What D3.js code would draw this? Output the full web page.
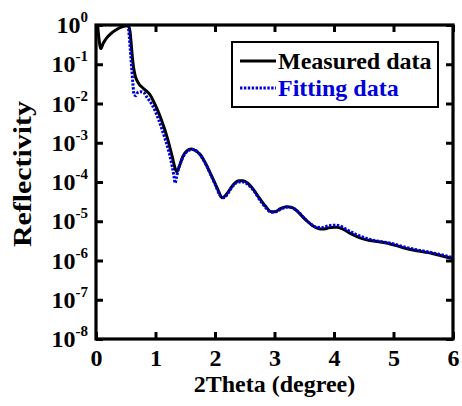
<!DOCTYPE html>
<html><head><meta charset="utf-8">
<script src="https://cdn.jsdelivr.net/npm/d3@7"></script>
<style>
html,body{margin:0;padding:0;background:#fff;}
text{font-family:"Liberation Serif","Times New Roman",serif;font-weight:bold;}
</style></head>
<body><svg id="c" width="462" height="406"></svg>
<script>
// 2Theta (degree) and log10(reflectivity)
const measuredX = [0.03,0.05,0.08,0.12,0.18,0.25,0.32,0.4,0.47,0.52,0.55,0.57,0.59,0.61,0.63,0.66,0.69,0.73,0.77,0.83,0.9,1.0,1.1,1.2,1.28,1.33,1.36,1.4,1.46,1.53,1.6,1.66,1.75,1.85,1.95,2.05,2.12,2.2,2.3,2.4,2.47,2.55,2.65,2.75,2.85,2.95,3.0,3.1,3.2,3.28,3.35,3.45,3.55,3.65,3.75,3.82,3.9,4.0,4.05,4.15,4.3,4.45,4.6,4.75,4.9,5.05,5.2,5.35,5.5,5.65,5.8,6.0];
const measuredLog = [-0.05,-0.35,-0.6,-0.47,-0.33,-0.22,-0.14,-0.07,-0.03,-0.02,-0.04,-0.15,-0.45,-0.8,-1.07,-1.3,-1.42,-1.52,-1.58,-1.66,-1.76,-2.05,-2.42,-2.88,-3.35,-3.65,-3.74,-3.6,-3.35,-3.2,-3.16,-3.19,-3.3,-3.55,-3.87,-4.2,-4.4,-4.3,-4.08,-3.97,-3.97,-4.03,-4.2,-4.42,-4.62,-4.76,-4.76,-4.68,-4.63,-4.64,-4.7,-4.85,-5.0,-5.12,-5.19,-5.2,-5.17,-5.15,-5.15,-5.2,-5.33,-5.43,-5.49,-5.52,-5.56,-5.62,-5.69,-5.74,-5.78,-5.82,-5.88,-5.95];
const fittingX = [0.54,0.56,0.58,0.6,0.62,0.64,0.67,0.7,0.75,0.8,0.86,0.95,1.05,1.15,1.22,1.28,1.31,1.33,1.35,1.38,1.42,1.48,1.55,1.62,1.7,1.8,1.9,2.0,2.1,2.15,2.22,2.3,2.4,2.47,2.55,2.65,2.75,2.85,2.95,3.02,3.12,3.22,3.3,3.4,3.5,3.6,3.7,3.8,3.9,4.0,4.1,4.2,4.35,4.5,4.65,4.8,4.95,5.1,5.25,5.4,5.55,5.7,5.85,6.0];
const fittingLog = [0.0,-0.3,-0.7,-1.1,-1.5,-1.78,-1.8,-1.72,-1.7,-1.72,-1.85,-2.05,-2.4,-2.85,-3.2,-3.6,-3.85,-4.03,-3.9,-3.7,-3.52,-3.32,-3.2,-3.17,-3.22,-3.42,-3.72,-4.05,-4.37,-4.4,-4.28,-4.1,-4.0,-4.0,-4.06,-4.22,-4.45,-4.65,-4.77,-4.76,-4.68,-4.64,-4.66,-4.76,-4.92,-5.06,-5.15,-5.16,-5.12,-5.1,-5.12,-5.2,-5.32,-5.41,-5.48,-5.52,-5.56,-5.62,-5.68,-5.73,-5.77,-5.82,-5.87,-5.93];
const xTicks = [0,1,2,3,4,5,6];
const yExponents = [0,-1,-2,-3,-4,-5,-6,-7,-8];
const seriesNames = ["Measured data","Fitting data"];

const svg = d3.select("#c");
const L=96, R=453, T=25, B=339;
const x = d3.scaleLinear().domain([0,6]).range([L,R]);
const y = d3.scaleLog().domain([1e-8,1]).range([B,T]);

const measured = measuredX.map((d,i)=>[d, Math.pow(10, measuredLog[i])]);
const fitting = fittingX.map((d,i)=>[d, Math.pow(10, fittingLog[i])]);

const line = d3.line().x(d=>x(d[0])).y(d=>y(d[1])).curve(d3.curveMonotoneX);

svg.append("defs").append("clipPath").attr("id","clip").append("rect")
  .attr("x",L).attr("y",T-2).attr("width",R-L).attr("height",B-T+2);

const g = svg.append("g").attr("clip-path","url(#clip)");
g.append("path").datum(measured).attr("d",line).attr("fill","none")
  .attr("stroke","#000").attr("stroke-width",3);
g.append("path").datum(fitting).attr("d",line).attr("fill","none")
  .attr("stroke","#0000dd").attr("stroke-width",3).attr("stroke-dasharray","2.4,1.5");

// ticks (inward) on all four sides
const tickLen = 7;
const axB = d3.axisBottom(x).tickValues(xTicks).tickSize(-tickLen).tickPadding(10).tickFormat(d3.format("d"));
const axT = d3.axisTop(x).tickValues(xTicks).tickSize(-tickLen).tickFormat("");
const yTickVals = yExponents.map(e=>Math.pow(10,e));
const axL = d3.axisLeft(y).tickValues(yTickVals).tickSize(-tickLen).tickFormat("");
const axR = d3.axisRight(y).tickValues(yTickVals).tickSize(-tickLen).tickFormat("");

function style(sel){
  sel.select(".domain").remove();
  sel.selectAll(".tick line").attr("stroke","#000").attr("stroke-width",3);
}
svg.append("g").attr("transform",`translate(0,${B})`).call(axB).call(style)
  .selectAll(".tick text").attr("font-size",24).attr("font-family","Liberation Serif").attr("font-weight","bold").attr("fill","#000");
svg.append("g").attr("transform",`translate(0,${T})`).call(axT).call(style);
svg.append("g").attr("transform",`translate(${L},0)`).call(axL).call(style);
svg.append("g").attr("transform",`translate(${R},0)`).call(axR).call(style);

// y tick labels as 10^n
const yl = svg.append("g");
yExponents.forEach(e=>{
  const t = yl.append("text").attr("x",L-8).attr("y",y(Math.pow(10,e))+8)
    .attr("text-anchor","end").attr("font-size",24).attr("fill","#000");
  t.append("tspan").text("10");
  t.append("tspan").attr("dy",-11).attr("font-size",15).text(String(e));
});

// frame
svg.append("rect").attr("x",L).attr("y",T).attr("width",R-L).attr("height",B-T)
  .attr("fill","none").attr("stroke","#000").attr("stroke-width",3.2);

// axis titles
svg.append("text").attr("x",(L+R)/2).attr("y",392).attr("text-anchor","middle")
  .attr("font-size",24).attr("fill","#000").text("2Theta (degree)");
svg.append("text").attr("transform",`translate(31,174) rotate(-90)`).attr("text-anchor","middle")
  .attr("font-size",25).attr("textLength",146).attr("lengthAdjust","spacingAndGlyphs")
  .attr("fill","#000").text("Reflectivity");

// legend
const lg = svg.append("g");
lg.append("rect").attr("x",232).attr("y",42).attr("width",206).attr("height",65)
  .attr("fill","#fff").attr("stroke","#000").attr("stroke-width",2);
lg.append("line").attr("x1",240).attr("x2",276).attr("y1",61).attr("y2",61)
  .attr("stroke","#000").attr("stroke-width",3);
lg.append("line").attr("x1",240).attr("x2",276).attr("y1",88).attr("y2",88)
  .attr("stroke","#0000dd").attr("stroke-width",3).attr("stroke-dasharray","2.4,1.5");
lg.append("text").attr("x",278).attr("y",69).attr("font-size",24).attr("fill","#000").text(seriesNames[0]);
lg.append("text").attr("x",278).attr("y",96).attr("font-size",24).attr("fill","#0000dd").text(seriesNames[1]);
</script></body></html>
